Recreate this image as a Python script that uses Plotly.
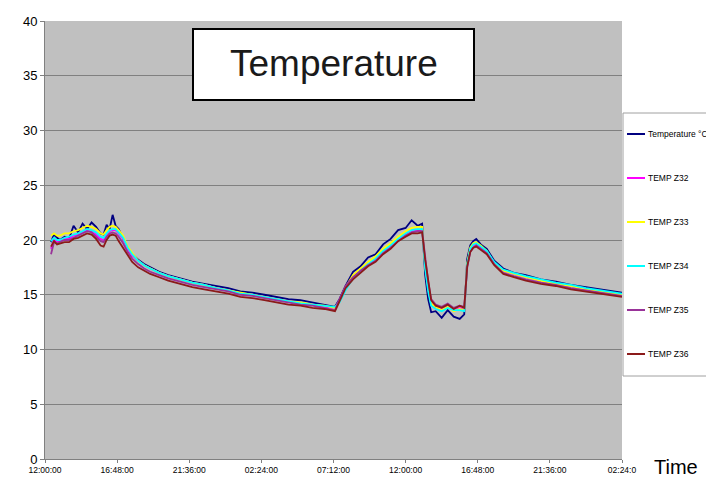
import plotly.graph_objects as go

# ---- data (hours since 12:00:00 on day 1) ----
hours = [0.4, 0.6, 0.8, 1.0, 1.3, 1.6, 1.9, 2.2, 2.5, 2.8,
         3.1, 3.4, 3.7, 3.9, 4.1, 4.3, 4.5, 4.7, 4.9, 5.2,
         5.5, 5.8, 6.2, 6.6, 7.0, 7.6, 8.2, 9.0, 9.8, 10.6,
         11.4, 12.2, 13.0, 13.8, 14.6, 15.4, 16.2, 17.0, 17.8, 18.6,
         19.3, 19.6, 20.0, 20.5, 21.0, 21.5, 22.0, 22.5, 23.0, 23.5,
         24.0, 24.4, 24.8, 25.1, 25.3, 25.5, 25.7, 26.0, 26.4, 26.8,
         27.2, 27.6, 27.9, 28.1, 28.3, 28.5, 28.7, 29.0, 29.4, 29.9,
         30.5, 31.2, 32.0, 33.0, 34.0, 35.0, 36.0, 37.0, 38.0, 38.4]

temp_c = [19.8, 20.5, 20.2, 20.0, 20.3, 20.1, 21.3, 20.7, 21.5, 21.0,
          21.6, 21.2, 20.6, 20.5, 21.4, 21.0, 22.3, 21.3, 21.0, 20.2,
          19.3, 18.7, 18.2, 17.8, 17.5, 17.1, 16.8, 16.5, 16.2, 16.0,
          15.8, 15.6, 15.3, 15.2, 15.0, 14.8, 14.6, 14.5, 14.3, 14.1,
          13.9, 14.6, 15.8, 17.1, 17.6, 18.4, 18.7, 19.6, 20.1, 20.9,
          21.1, 21.8, 21.3, 21.5, 16.8, 14.6, 13.4, 13.5, 12.9, 13.6,
          13.0, 12.8, 13.2, 18.3, 19.5, 19.9, 20.1, 19.6, 19.2, 18.1,
          17.4, 17.0, 16.8, 16.4, 16.2, 15.9, 15.7, 15.5, 15.3, 15.2]

temp_z32 = [19.2, 20.0, 19.9, 19.9, 20.1, 20.1, 20.4, 20.5, 20.7, 20.9,
            20.8, 20.5, 20.1, 20.0, 20.5, 20.8, 20.9, 20.9, 20.6, 20.1,
            19.2, 18.6, 18.1, 17.7, 17.4, 17.0, 16.7, 16.4, 16.1, 15.9,
            15.6, 15.4, 15.1, 15.0, 14.8, 14.6, 14.4, 14.2, 14.1, 13.9,
            13.8, 14.5, 15.6, 16.5, 17.2, 17.8, 18.2, 18.9, 19.4, 20.0,
            20.5, 20.8, 20.9, 20.9, 17.8, 15.8, 14.3, 13.9, 13.7, 14.0,
            13.6, 13.8, 13.7, 17.7, 19.1, 19.5, 19.6, 19.3, 18.9, 17.9,
            17.2, 16.9, 16.6, 16.3, 16.0, 15.8, 15.5, 15.3, 15.1, 15.0]

temp_z33 = [20.4, 20.6, 20.4, 20.4, 20.6, 20.6, 20.8, 20.9, 21.1, 21.3,
            21.2, 21.0, 20.6, 20.5, 20.9, 21.2, 21.3, 21.2, 20.9, 20.4,
            19.4, 18.8, 18.1, 17.7, 17.4, 17.0, 16.7, 16.4, 16.1, 15.9,
            15.6, 15.4, 15.2, 15.0, 14.8, 14.6, 14.4, 14.3, 14.1, 14.0,
            13.8, 14.4, 15.7, 16.8, 17.4, 18.0, 18.5, 19.2, 19.7, 20.3,
            20.8, 21.1, 21.2, 21.2, 17.6, 15.6, 14.2, 13.9, 13.6, 13.9,
            13.5, 13.7, 13.6, 17.9, 19.3, 19.7, 19.8, 19.5, 19.0, 17.9,
            17.2, 16.9, 16.6, 16.3, 16.0, 15.8, 15.5, 15.3, 15.1, 15.0]

temp_z34 = [19.9, 20.2, 20.0, 20.0, 20.2, 20.3, 20.5, 20.6, 20.8, 21.0,
            20.9, 20.7, 20.3, 20.2, 20.6, 20.9, 21.0, 21.0, 20.7, 20.2,
            19.3, 18.7, 18.1, 17.7, 17.4, 17.0, 16.7, 16.4, 16.1, 15.9,
            15.6, 15.4, 15.1, 15.0, 14.8, 14.6, 14.4, 14.2, 14.1, 14.0,
            13.9, 14.3, 15.4, 16.5, 17.2, 17.8, 18.3, 19.0, 19.5, 20.1,
            20.6, 20.9, 21.0, 21.0, 17.4, 15.3, 14.0, 13.7, 13.5, 13.8,
            13.6, 13.6, 13.5, 17.8, 19.2, 19.6, 19.7, 19.4, 19.0, 18.0,
            17.3, 17.0, 16.7, 16.4, 16.1, 15.9, 15.6, 15.4, 15.2, 15.1]

temp_z35 = [18.7, 19.8, 19.7, 19.8, 20.0, 20.0, 20.2, 20.4, 20.6, 20.8,
            20.7, 20.3, 19.9, 19.8, 20.3, 20.6, 20.7, 20.6, 20.3, 19.7,
            18.9, 18.3, 17.8, 17.4, 17.1, 16.8, 16.5, 16.2, 15.9, 15.7,
            15.5, 15.3, 15.0, 14.9, 14.7, 14.5, 14.3, 14.1, 14.0, 13.8,
            13.6, 14.6, 15.8, 16.6, 17.2, 17.7, 18.1, 18.8, 19.3, 19.9,
            20.4, 20.7, 20.8, 20.8, 18.4, 16.2, 14.6, 14.1, 13.9, 14.2,
            13.8, 14.0, 13.9, 17.5, 18.9, 19.3, 19.5, 19.2, 18.8, 17.8,
            17.0, 16.7, 16.4, 16.1, 15.9, 15.6, 15.4, 15.2, 15.0, 14.9]

temp_z36 = [19.4, 19.9, 19.6, 19.7, 19.8, 19.8, 20.1, 20.2, 20.4, 20.6,
            20.5, 20.1, 19.5, 19.4, 20.0, 20.4, 20.5, 20.4, 19.9, 19.3,
            18.6, 18.0, 17.5, 17.2, 16.9, 16.6, 16.3, 16.0, 15.7, 15.5,
            15.3, 15.1, 14.8, 14.7, 14.5, 14.3, 14.1, 14.0, 13.8, 13.7,
            13.5, 14.4, 15.6, 16.4, 17.0, 17.6, 18.0, 18.7, 19.2, 19.9,
            20.3, 20.6, 20.6, 20.7, 18.2, 16.4, 14.5, 14.0, 13.8, 14.1,
            13.7, 14.0, 13.8, 17.6, 18.9, 19.3, 19.4, 19.1, 18.7, 17.7,
            16.9, 16.6, 16.3, 16.0, 15.8, 15.5, 15.3, 15.1, 14.9, 14.8]

series_names = ["Temperature °C", "TEMP Z32", "TEMP Z33", "TEMP Z34", "TEMP Z35", "TEMP Z36"]
series_values = [temp_c, temp_z32, temp_z33, temp_z34, temp_z35, temp_z36]

tick_hours = [0, 4.8, 9.6, 14.4, 19.2, 24.0, 28.8, 33.6, 38.4]
tick_labels = ["12:00:00", "16:48:00", "21:36:00", "02:24:00", "07:12:00",
               "12:00:00", "16:48:00", "21:36:00", "02:24:0"]

# ---- styling ----
series_colors = ["#000080", "#FF00FF", "#FFFF00", "#00FFFF", "#993399", "#8B1A1A"]
SANS = "Liberation Sans, Arial, sans-serif"

WIN_W, WIN_H = 714, 478
OFF = 8                      # page body margin
W, H = WIN_W - OFF, WIN_H - OFF
PL, PR, PT, PB = 45, 622, 21, 459  # plot area in window pixels


def px(x):
    return (x - PL) / (PR - PL)


def py(y):
    return (PB - y) / (PB - PT)


fig = go.Figure()
for name, vals, col in zip(series_names, series_values, series_colors):
    fig.add_trace(go.Scatter(x=hours, y=vals, mode="lines", name=name,
                             line=dict(color=col, width=1.8), showlegend=False))

shapes = []
annotations = []

# title box
shapes.append(dict(type="rect", xref="paper", yref="paper",
                   x0=px(193), x1=px(474), y0=py(100), y1=py(29),
                   fillcolor="white", line=dict(color="black", width=2), layer="above"))
annotations.append(dict(text="Temperature", xref="paper", yref="paper",
                        x=px(333.5), y=py(63), xanchor="center", yanchor="middle",
                        showarrow=False, font=dict(family=SANS, size=37, color="#1a1a1a")))

# legend box
shapes.append(dict(type="rect", xref="paper", yref="paper",
                   x0=px(623), x1=px(711), y0=py(376), y1=py(113),
                   fillcolor="white", line=dict(color="#A0A0A0", width=1), layer="above"))
for i, (name, col) in enumerate(zip(series_names, series_colors)):
    yy = 134 + 44 * i
    shapes.append(dict(type="line", xref="paper", yref="paper",
                       x0=px(627), x1=px(645), y0=py(yy), y1=py(yy),
                       line=dict(color=col, width=2), layer="above"))
    annotations.append(dict(text=name, xref="paper", yref="paper",
                            x=px(646), y=py(yy), xanchor="left", yanchor="middle",
                            showarrow=False, font=dict(family=SANS, size=8.5, color="black")))

# outer right border fragment
shapes.append(dict(type="line", xref="paper", yref="paper",
                   x0=px(712), x1=px(712), y0=py(9), y1=py(440),
                   line=dict(color="#A0A0A0", width=1)))

# axis title "Time"
annotations.append(dict(text="Time", xref="paper", yref="paper",
                        x=px(676), y=py(467), xanchor="center", yanchor="middle",
                        showarrow=False, font=dict(family=SANS, size=20, color="black")))

fig.update_layout(
    width=W, height=H,
    margin=dict(l=PL - OFF, r=WIN_W - PR, t=PT - OFF, b=WIN_H - PB, pad=0, autoexpand=False),
    paper_bgcolor="white",
    plot_bgcolor="#C0C0C0",
    shapes=shapes,
    annotations=annotations,
    showlegend=False,
    xaxis=dict(range=[0, 38.4], tickmode="array", tickvals=tick_hours, ticktext=tick_labels,
               ticks="outside", ticklen=3, tickcolor="#808080", automargin=False,
               showline=True, linecolor="#808080", linewidth=1,
               showgrid=False, zeroline=False,
               tickfont=dict(family=SANS, size=8.5, color="black")),
    yaxis=dict(range=[0, 40], tick0=0, dtick=5, automargin=False,
               ticks="outside", ticklen=4, tickcolor="#808080",
               showline=True, linecolor="#808080", linewidth=1,
               showgrid=True, gridcolor="#808080", gridwidth=1, zeroline=False,
               tickfont=dict(family=SANS, size=13, color="black")),
)

fig.write_html("out.html")
